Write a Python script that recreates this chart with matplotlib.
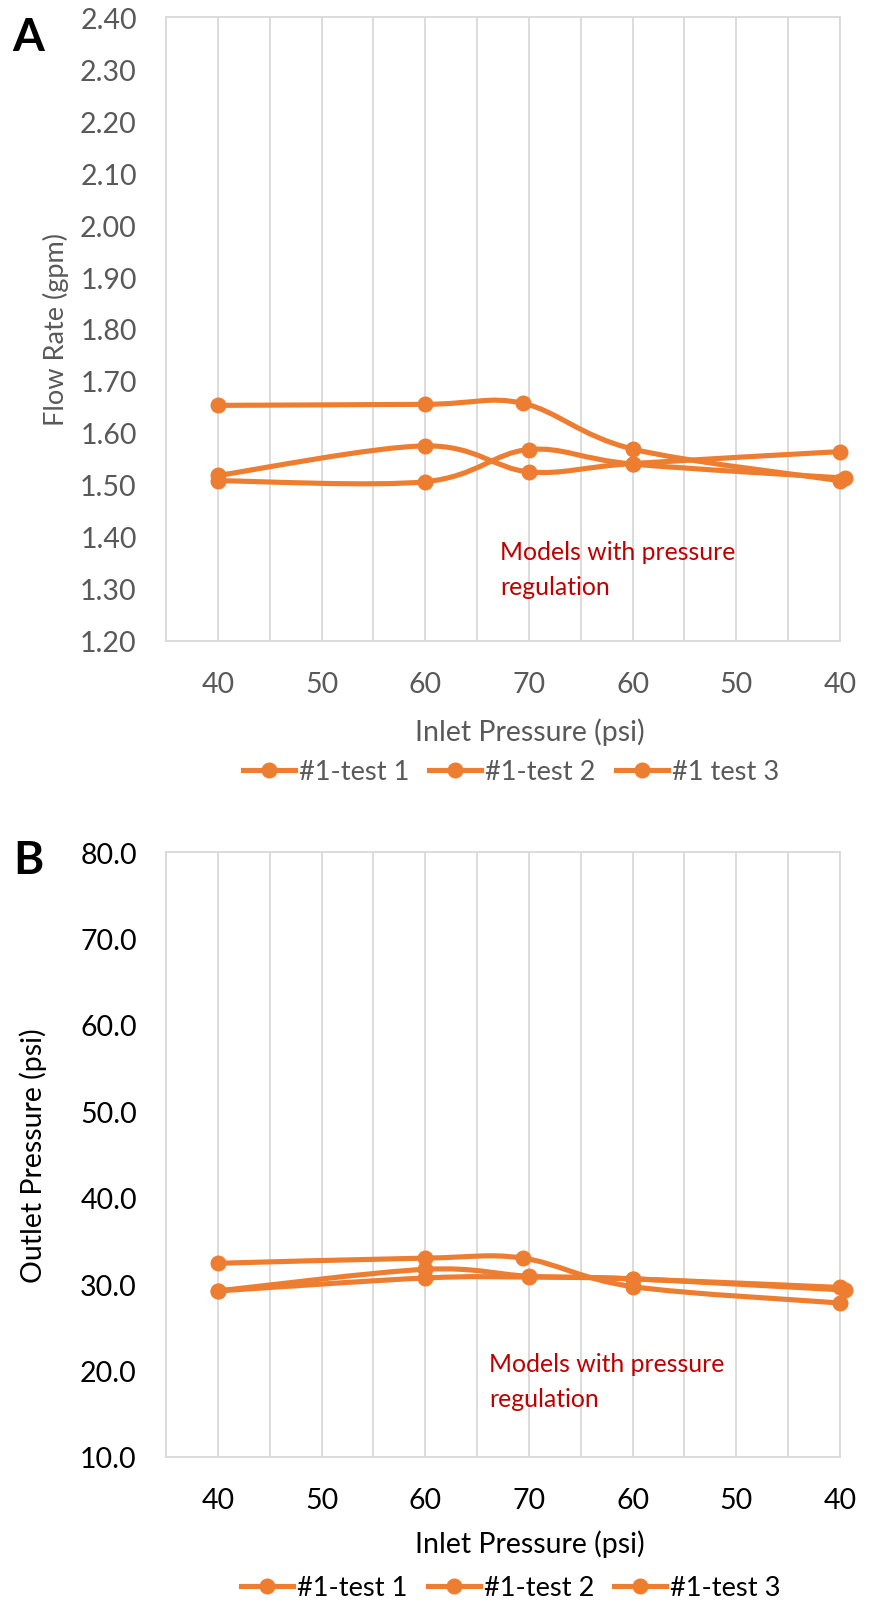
import matplotlib
matplotlib.use("Agg")
import matplotlib.pyplot as plt
from matplotlib.path import Path
from matplotlib.patches import PathPatch
from matplotlib.lines import Line2D

plt.rcParams['font.family'] = ['Lato', 'DejaVu Sans']

# ---------------- data ----------------
tick_positions = [1, 3, 5, 7, 9, 11, 13]
tick_labels = ['40', '50', '60', '70', '60', '50', '40']

# x positions (sequence position along the test: 40 -> 70 -> 40 psi)
x_test1 = [1, 5, 6.88, 9, 13]
x_test2 = [1, 5, 7, 9, 13]
x_test3 = [1, 5, 7, 9, 13.1]

# Panel A: flow rate (gpm)
flow_test1 = [1.653, 1.655, 1.657, 1.569, 1.508]
flow_test2 = [1.518, 1.575, 1.525, 1.541, 1.564]
flow_test3 = [1.508, 1.506, 1.568, 1.540, 1.513]

# Panel B: outlet pressure (psi)
outlet_test1 = [32.4, 33.0, 33.0, 29.7, 27.8]
outlet_test2 = [29.2, 31.7, 30.9, 30.6, 29.6]
outlet_test3 = [29.2, 30.7, 30.8, 30.6, 29.3]

names_A = ['#1-test 1', '#1-test 2', '#1 test 3']
names_B = ['#1-test 1', '#1-test 2', '#1-test 3']

ORANGE = '#ED7D31'
GRID = '#D9D9D9'
GRAYTXT = '#595959'
RED = '#C00000'

W, H = 882, 1606
fig = plt.figure(figsize=(W / 100, H / 100), dpi=100)


def smooth_path(xs, ys):
    pts = list(zip(xs, ys))
    n = len(pts)
    verts = [pts[0]]
    codes = [Path.MOVETO]
    for i in range(n - 1):
        p0 = pts[i - 1] if i > 0 else pts[i]
        p1 = pts[i]
        p2 = pts[i + 1]
        p3 = pts[i + 2] if i + 2 < n else pts[i + 1]
        c1 = (p1[0] + (p2[0] - p0[0]) / 6, p1[1] + (p2[1] - p0[1]) / 6)
        c2 = (p2[0] - (p3[0] - p1[0]) / 6, p2[1] - (p3[1] - p1[1]) / 6)
        verts += [c1, c2, p2]
        codes += [Path.CURVE4] * 3
    return Path(verts, codes)


def panel(top_px, bot_px, xs_list, ys_list, ylim, yticks, yfmt, ylabel,
          ylabelsize, ylabelpad, txtcolor, names, legend_y, xlabel_y,
          letter, letter_y, note_xy):
    left_px, right_px = 166, 840
    ax = fig.add_axes([left_px / W, 1 - bot_px / H,
                       (right_px - left_px) / W, (bot_px - top_px) / H])
    for xs, ys in zip(xs_list, ys_list):
        ax.add_patch(PathPatch(smooth_path(xs, ys), fill=False,
                               edgecolor=ORANGE, lw=3.7, capstyle='round',
                               joinstyle='round', zorder=3, clip_on=False))
        ax.plot(xs, ys, linestyle='none', marker='o', ms=10.5,
                color=ORANGE, zorder=4, clip_on=False)
    ax.set_xlim(0, 13)
    ax.set_ylim(*ylim)
    ax.set_axisbelow(True)
    ax.set_xticks(tick_positions)
    ax.set_xticklabels(tick_labels)
    ax.set_xticks(range(0, 14), minor=True)
    ax.xaxis.grid(True, which='both', color=GRID, lw=1.3)
    ax.set_yticks(yticks)
    ax.set_yticklabels([yfmt % v for v in yticks])
    ax.tick_params(axis='both', which='both', length=0, labelsize=20.5,
                   labelcolor=txtcolor)
    ax.tick_params(axis='y', pad=21)
    ax.tick_params(axis='x', pad=22)
    for s in ax.spines.values():
        s.set_color(GRID)
        s.set_linewidth(1.3)
    ax.set_ylabel(ylabel, fontsize=ylabelsize, color=txtcolor,
                  labelpad=ylabelpad)
    fig.text(530 / W, 1 - xlabel_y / H, 'Inlet Pressure (psi)', fontsize=20.5,
             color=txtcolor, ha='center', va='center')
    handles = [Line2D([], [], color=ORANGE, lw=3.7, marker='o', ms=10.5)
               for _ in names]
    fig.legend(handles, names, loc='center',
               bbox_to_anchor=(511 / W, 1 - legend_y / H), ncol=3,
               frameon=False, fontsize=19.6, handlelength=1.9,
               handletextpad=0.15, columnspacing=0.75, labelcolor=txtcolor,
               borderaxespad=0, borderpad=0)
    fig.text(28 / W, 1 - letter_y / H, letter, fontsize=33, fontweight='bold',
             ha='center', va='center', color='black')
    fig.text(note_xy[0] / W, 1 - note_xy[1] / H,
             'Models with pressure\nregulation', fontsize=17.8, color=RED,
             ha='left', va='top', linespacing=1.65)
    return ax


panel(18.3, 641.7, [x_test1, x_test2, x_test3],
      [flow_test1, flow_test2, flow_test3], (1.2, 2.4),
      [1.2 + 0.1 * i for i in range(13)], '%.2f', 'Flow Rate (gpm)',
      19.5, 8, GRAYTXT, names_A, 773, 732, 'A', 38, (500, 541))

panel(853.3, 1457.7, [x_test1, x_test2, x_test3],
      [outlet_test1, outlet_test2, outlet_test3], (10, 80),
      [10 + 10 * i for i in range(8)], '%.1f', 'Outlet Pressure (psi)',
      20.5, 24, 'black', names_B, 1589, 1544, 'B', 861, (489, 1353))

fig.savefig('out.png', dpi=100)
